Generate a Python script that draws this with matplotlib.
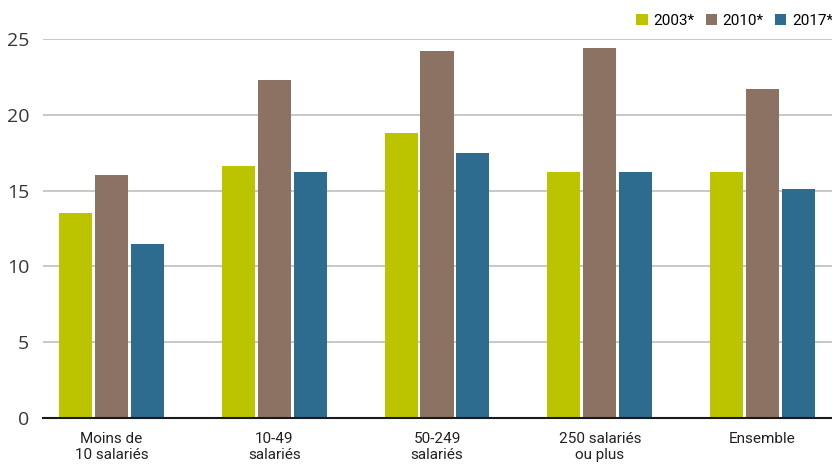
import matplotlib
matplotlib.use("Agg")
import matplotlib.pyplot as plt
from matplotlib.patches import Patch
import numpy as np

categories = ["Moins de\n10 salariés", "10-49\nsalariés", "50-249\nsalariés", "250 salariés\nou plus", "Ensemble"]
series_names = ["2003*", "2010*", "2017*"]
v2003 = [13.5, 16.6, 18.8, 16.2, 16.2]
v2010 = [16.0, 22.3, 24.2, 24.4, 21.7]
v2017 = [11.5, 16.2, 17.5, 16.2, 15.1]
yticks = [0, 5, 10, 15, 20, 25]
colors = ["#bcc400", "#8c7263", "#2d6b8f"]

plt.rcParams['font.family'] = ['Roboto', 'DejaVu Sans']

fig = plt.figure(figsize=(8.32, 4.68), dpi=100)
ax = fig.add_axes([43/832, 1-418/468, 1-43/832, (418-39)/468])

x = np.arange(len(categories))
width = 0.203
step = 0.221
for i, (vals, c) in enumerate(zip([v2003, v2010, v2017], colors)):
    ax.bar(x + (i-1)*step, vals, width, color=c, zorder=3)

ax.set_ylim(0, 25)
ax.set_xlim(-0.421, 4.427)
ax.set_yticks(yticks)
ax.set_yticklabels([str(t) for t in yticks], fontsize=14, color="#383838",
                   family=['Open Sans', 'DejaVu Sans'])
ax.set_xticks(x)
ax.set_xticklabels(categories, fontsize=11, color="#222222", linespacing=1.15)
ax.tick_params(axis='both', length=0)
ax.tick_params(axis='y', pad=10)
ax.tick_params(axis='x', pad=10)
ax.yaxis.grid(True, color="#c8c8c8", linewidth=1.4, zorder=0)
for s in ["top", "right", "left"]:
    ax.spines[s].set_visible(False)
ax.spines["bottom"].set_color("#1a1a1a")
ax.spines["bottom"].set_linewidth(1.5)
ax.spines["bottom"].set_zorder(4)

handles = [Patch(facecolor=c, edgecolor='none') for c in colors]
fig.legend(handles, series_names, loc="upper right", bbox_to_anchor=(1.014, 0.994),
           ncol=3, frameon=False, handlelength=0.75, handleheight=0.75,
           handletextpad=0.35, columnspacing=0.75, borderaxespad=0.3,
           prop={'family': ['Roboto', 'DejaVu Sans'], 'size': 11})

fig.savefig("out.png", dpi=100)
